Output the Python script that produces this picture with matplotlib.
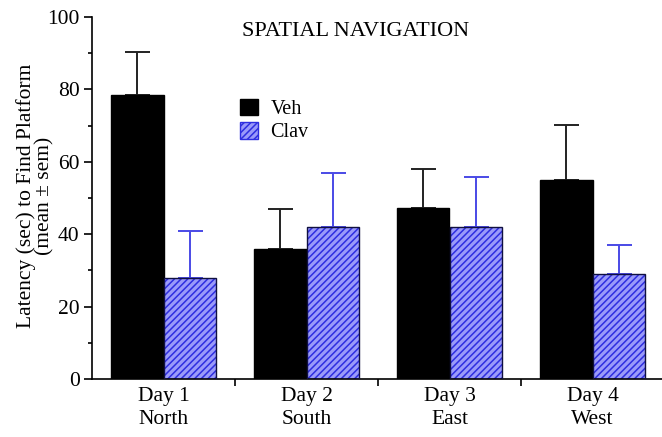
import numpy as np
import matplotlib
matplotlib.use("Agg")
from matplotlib import pyplot as plt
from matplotlib.patches import Patch
from matplotlib.ticker import MultipleLocator

plt.rcParams["font.family"] = ["Liberation Serif", "DejaVu Serif"]
plt.rcParams["hatch.linewidth"] = 1.1

# 数据
days = ["Day 1\nNorth", "Day 2\nSouth", "Day 3\nEast", "Day 4\nWest"]
veh_mean = [78.4, 36.0, 47.3, 55.0]
veh_sem = [11.9, 11.0, 10.7, 15.2]
clav_mean = [27.8, 42.0, 41.9, 29.1]
clav_sem = [13.2, 15.0, 13.8, 7.8]

x = np.arange(len(days))
w = 0.364
clav_face = "#9a9afa"
clav_hatch = "#2e2ee0"
clav_err = "#4a4ae6"

fig = plt.figure(figsize=(6.62, 4.37), dpi=100)
ax = fig.add_axes([92 / 662, 58 / 437, 572 / 662, 362 / 437])

# Veh
ax.bar(x - w / 2, veh_mean, w, color="black", edgecolor="black", linewidth=1, zorder=2)
ax.errorbar(x - w / 2, veh_mean, yerr=[np.zeros(4), veh_sem], fmt="none",
            ecolor="#222222", elinewidth=1.4, capsize=9, capthick=1.4, zorder=1)

# Clav（先画斜线填充，再画黑色边框）
ax.bar(x + w / 2, clav_mean, w, color=clav_face, edgecolor=clav_hatch, hatch="/////",
       linewidth=0, zorder=2)
ax.bar(x + w / 2, clav_mean, w, fill=False, edgecolor="#101040", linewidth=1, zorder=3)
ax.errorbar(x + w / 2, clav_mean, yerr=[np.zeros(4), clav_sem], fmt="none",
            ecolor=clav_err, elinewidth=1.4, capsize=9, capthick=1.4, zorder=1)

ax.set_xlim(-0.5, 3.5)
ax.set_ylim(0, 100)

ax.spines["top"].set_visible(False)
ax.spines["right"].set_visible(False)
ax.spines["left"].set_linewidth(1.2)
ax.spines["bottom"].set_linewidth(1.2)

ax.yaxis.set_major_locator(MultipleLocator(20))
ax.yaxis.set_minor_locator(MultipleLocator(10))
ax.tick_params(axis="y", which="major", length=6, width=1.2, labelsize=15.5, pad=3)
ax.tick_params(axis="y", which="minor", length=3, width=1.2)

ax.set_xticks([0.5, 1.5, 2.5])
ax.set_xticklabels([])
ax.set_xticks(x, minor=True)
ax.set_xticklabels(days, minor=True, fontsize=15.5, linespacing=1.25)
ax.tick_params(axis="x", which="major", length=5, width=1.2)
ax.tick_params(axis="x", which="minor", length=0, pad=6)

fig.text(35 / 662, 1 - 196 / 437, "Latency (sec) to Find Platform\n(mean ± sem)",
         rotation=90, ha="center", va="center", fontsize=15.5, linespacing=0.95)

ax.text(0.46, 0.96, "SPATIAL NAVIGATION", transform=ax.transAxes, ha="center",
        va="center", fontsize=16)

handles = [Patch(facecolor="black", edgecolor="black"),
           Patch(facecolor=clav_face, edgecolor=clav_hatch, hatch="/////")]
ax.legend(handles, ["Veh", "Clav"], loc="upper left", bbox_to_anchor=(0.245, 0.797),
          frameon=False, fontsize=14.5, handlelength=0.9, handleheight=0.9,
          handletextpad=0.6, labelspacing=0.15, borderaxespad=0)

plt.savefig("out.png", dpi=100)
